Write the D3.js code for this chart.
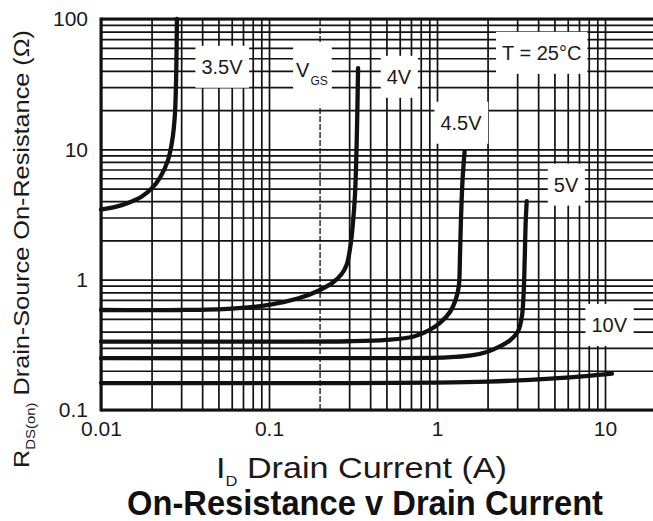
<!DOCTYPE html>
<html>
<head>
<meta charset="utf-8">
<script src="https://cdn.jsdelivr.net/npm/d3@7"></script>
<style>
  body { margin: 0; background: #fff; }
  svg { display: block; font-family: "Liberation Sans", Arial, sans-serif; }
</style>
</head>
<body>
<svg></svg>
<script>
let w = 653;
let h = 521;

// curves: [drain current A, Rds(on) ohm]
const vgs35 = [[0.01,3.45],[0.0125,3.65],[0.015,3.95],[0.0175,4.35],[0.02,5.0],[0.0225,6.1],[0.025,8.2],[0.0265,11.5],[0.0275,18],[0.028,35],[0.0283,100]];
const vgs4  = [[0.01,0.585],[0.03,0.585],[0.06,0.6],[0.1,0.64],[0.15,0.72],[0.2,0.83],[0.24,0.95],[0.27,1.1],[0.29,1.3],[0.305,1.8],[0.315,2.6],[0.325,4.5],[0.333,12],[0.339,42]];
const vgs45 = [[0.01,0.335],[0.1,0.335],[0.3,0.337],[0.5,0.345],[0.72,0.365],[0.9,0.41],[1.05,0.47],[1.2,0.57],[1.3,0.72],[1.35,0.9],[1.37,1.5],[1.39,3],[1.42,5.9],[1.46,9.7]];
const vgs5  = [[0.01,0.25],[0.3,0.25],[1.15,0.253],[1.6,0.262],[2,0.28],[2.4,0.31],[2.7,0.34],[3.03,0.4],[3.2,0.52],[3.28,0.8],[3.33,1.5],[3.37,2.7],[3.42,4.0]];
const vgs10 = [[0.01,0.161],[0.3,0.161],[1,0.162],[2,0.165],[5,0.175],[8,0.183],[11,0.19]];

const xTicks = [0.01, 0.1, 1, 10];
const yTicks = [0.1, 1, 10, 100];

// curve labels, anchored in data units
const labels = [
  {text: '3.5V', x: 0.0525, y: 43},
  {text: '4V', x: 0.594, y: 36},
  {text: '4.5V', x: 1.39, y: 16},
  {text: '5V', x: 5.86, y: 5.36},
  {text: '10V', x: 10.6, y: 0.45},
  {text: 'T = 25°C', x: 4.2, y: 55}
];

const svg = d3.select('svg')
  .attr('width', w)
  .attr('height', h)

// Scales
const xScale = d3.scaleLog()
  .domain([0.01, 20])
  .range([101, 101 + 168 * Math.log10(2000)])

const yScale = d3.scaleLog()
  .domain([0.1, 100])
  .range([410, 19])

const yTop = yScale(100), yBot = yScale(0.1), xLeft = xScale(0.01);

// grid values: 1..9 in every decade
const xGrid = [], yGrid = [];
xTicks.slice(0, -1).forEach(d => { for (let i = 1; i < 10; i++) xGrid.push(d * i) });
xGrid.push(10);
yTicks.slice(0, -1).forEach(d => { for (let i = 1; i < 10; i++) yGrid.push(d * i) });
yGrid.push(100);

// Grid
svg.append('g')
  .attr('transform', 'translate(0,' + yBot + ')')
  .call(d3.axisBottom(xScale).tickValues(xGrid).tickSize(-(yBot - yTop)).tickFormat(''))
  .call(g => g.select('.domain').remove())
  .call(g => g.selectAll('line')
    .attr('stroke', '#111')
    .attr('stroke-width', d => Math.abs(d - 0.2) < 1e-9 ? 1.3 : 1.7)
    .attr('stroke-dasharray', d => Math.abs(d - 0.2) < 1e-9 ? '6 2' : null))

svg.append('g')
  .attr('transform', 'translate(' + xLeft + ',0)')
  .call(d3.axisRight(yScale).tickValues(yGrid).tickSize(w - xLeft).tickFormat(''))
  .call(g => g.select('.domain').remove())
  .call(g => g.selectAll('line').attr('stroke', '#111').attr('stroke-width', 1.7))

// label boxes knock out the grid
const lab = svg.append('g')
labels.forEach(l => {
  const g = lab.append('g')
  const t = g.append('text')
    .attr('x', xScale(l.x))
    .attr('y', yScale(l.y))
    .attr('text-anchor', 'middle')
    .attr('dominant-baseline', 'central')
    .attr('font-size', 20)
    .attr('fill', '#1a1a1a')
    .text(l.text)
  const b = t.node().getBBox()
  g.insert('rect', 'text')
    .attr('x', b.x - 6).attr('y', b.y - 10)
    .attr('width', b.width + 12).attr('height', b.height + 20)
    .attr('fill', '#fff')
})

// V_GS label
const vg = lab.append('g')
const vt = vg.append('text')
  .attr('x', xScale(0.145))
  .attr('y', yScale(36))
  .attr('font-size', 20)
  .attr('fill', '#1a1a1a')
vt.append('tspan').text('V')
vt.append('tspan').attr('font-size', 12).attr('dy', 8).attr('dx', 1).text('GS')
const vb = vt.node().getBBox()
vg.insert('rect', 'text')
  .attr('x', vb.x - 3).attr('y', vb.y - 16)
  .attr('width', vb.width + 7).attr('height', vb.height + 34)
  .attr('fill', '#fff')

// Frame
svg.append('g')
  .attr('transform', 'translate(0,' + yBot + ')')
  .call(d3.axisBottom(xScale).tickValues(xTicks).tickSize(0).tickPadding(11)
    .tickFormat(d => String(d)))
  .call(g => g.select('.domain').attr('d', 'M' + xLeft + ',0H' + w).attr('stroke', '#111').attr('stroke-width', 3))
  .call(g => g.selectAll('text').attr('font-size', 21).attr('fill', '#1a1a1a'))
  .attr('font-family', null)

svg.append('g')
  .attr('transform', 'translate(' + xLeft + ',0)')
  .call(d3.axisLeft(yScale).tickValues(yTicks).tickSize(0).tickPadding(13)
    .tickFormat(d => String(d)))
  .call(g => g.select('.domain').attr('d', 'M0,' + (yBot + 1.5) + 'V' + (yTop - 1.5)).attr('stroke', '#111').attr('stroke-width', 3))
  .call(g => g.selectAll('text').attr('font-size', 21).attr('fill', '#1a1a1a'))
  .attr('font-family', null)

svg.append('line')
  .attr('x1', xLeft).attr('x2', w)
  .attr('y1', yTop).attr('y2', yTop)
  .attr('stroke', '#111').attr('stroke-width', 3)

// Curves
const line = d3.line()
  .x(d => xScale(d[0]))
  .y(d => yScale(d[1]))
  .curve(d3.curveCatmullRom.alpha(0.5))

svg.append('g')
  .selectAll('path')
  .data([vgs35, vgs4, vgs45, vgs5, vgs10])
  .enter()
  .append('path')
  .attr('d', line)
  .attr('fill', 'none')
  .attr('stroke', '#111')
  .attr('stroke-width', 4.3)
  .attr('stroke-linecap', 'round')

// Axis titles
const yt = svg.append('text')
  .attr('transform', 'translate(29,249) rotate(-90)')
  .attr('text-anchor', 'middle')
  .attr('font-size', 22)
  .attr('fill', '#1a1a1a')
  .attr('textLength', 438)
  .attr('lengthAdjust', 'spacingAndGlyphs')
yt.append('tspan').text('R')
yt.append('tspan').attr('font-size', 13).attr('dy', 6).text('DS(on)')
yt.append('tspan').attr('dy', -6).text(' Drain-Source On-Resistance (Ω)')

const xt = svg.append('text')
  .attr('x', 216)
  .attr('y', 478)
  .attr('font-size', 29)
  .attr('fill', '#1a1a1a')
  .attr('textLength', 291)
  .attr('lengthAdjust', 'spacingAndGlyphs')
xt.append('tspan').text('I')
xt.append('tspan').attr('font-size', 14).attr('dy', 8).text('D')
xt.append('tspan').attr('dy', -8).text('  Drain Current (A)')

svg.append('text')
  .attr('x', 127)
  .attr('y', 515)
  .attr('font-family', '"Liberation Sans Narrow", "Arial Narrow", "Liberation Sans", sans-serif')
  .attr('font-weight', 'bold')
  .attr('font-size', 35)
  .attr('fill', '#111')
  .attr('textLength', 476)
  .attr('lengthAdjust', 'spacingAndGlyphs')
  .text('On-Resistance v Drain Current')
</script>
</body>
</html>
